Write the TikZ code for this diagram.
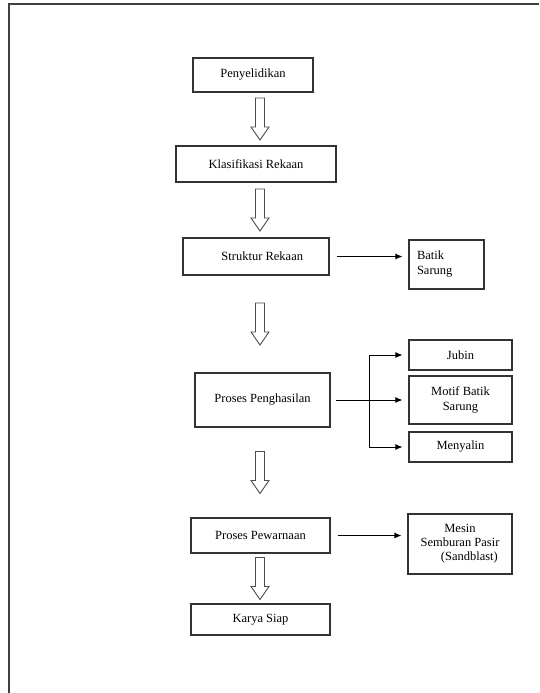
\documentclass[tikz,border=0pt]{standalone}
\usepackage{fontspec}
\setmainfont{Liberation Serif}
\usetikzlibrary{positioning}
\usetikzlibrary{calc}
\usetikzlibrary{arrows.meta}
\colorlet{frame}{black!75}
\colorlet{boxline}{black!80}
% hollow arrow halfway between two boxes
\newcommand{\tikzblockarrow}[2]{%
\path ($(#1.south)!0.5!(#2.north)$) coordinate (mid);
\draw[draw=black!70,line width=0.9pt,fill=white,line join=miter] (spine |- mid) ++(-4.5,-21) -- ++(9,0) -- ++(0,29) -- ++(4.5,0) -- ++(-9,13) -- ++(-9,-13) -- ++(4.5,0) -- cycle;
}
\begin{document}
\begin{tikzpicture}[x=1pt, y=-1pt,
  box/.style={draw=boxline, line width=1.2pt, inner sep=2pt, font=\fontsize{12.5}{15}\selectfont, align=center},
  arr/.style={-{Latex[length=7pt,width=6pt]}, line width=0.8pt, shorten >=6pt}]
\useasboundingbox (0,0) rectangle (539,693);
% open frame
\draw[frame,line width=1.5pt] (9,693) -- (9,4) -- (539,4);
\coordinate (spine) at (260,0);
% main column
\node[box, minimum width=120pt, minimum height=34pt] (pen) at (253,75) {Penyelidikan};
\node[box, minimum width=160pt, minimum height=36pt] (kla) at (256,164) {Klasifikasi Rekaan};
\node[box, minimum width=146pt, minimum height=37pt] (str) at (256,256.5) {\hspace*{1em}Struktur Rekaan};
\node[box, minimum width=135pt, minimum height=54pt] (peng) at (262.5,400) {Proses Penghasilan};
\node[box, minimum width=139pt, minimum height=35pt] (pew) at (260.5,535.5) {Proses Pewarnaan};
\node[box, minimum width=139pt, minimum height=31pt] (kar) at (260.5,619.5) {Karya Siap};
% side boxes
\node[box, text width=59pt, inner sep=8pt, align=left, minimum height=49pt] (bat) at (446.5,264.5) {Batik\\Sarung};
\node[box, minimum width=103pt, minimum height=30pt] (jub) at (460.5,355) {Jubin};
\node[box, minimum width=103pt, minimum height=48pt] (mot) at (460.5,400) {Motif Batik\\Sarung};
\node[box, minimum width=103pt, minimum height=30pt] (men) at (460.5,447) {Menyalin};
\node[box, minimum width=104pt, minimum height=60pt, font=\fontsize{12.5}{14}\selectfont] (mes) at (460,544) {Mesin\\Semburan Pasir\\\hspace*{1.5em}(Sandblast)};
% hollow arrows
\tikzblockarrow{pen}{kla}
\tikzblockarrow{kla}{str}
\tikzblockarrow{str}{peng}
\tikzblockarrow{peng}{pew}
\tikzblockarrow{pew}{kar}
% side connectors
\draw[arr, shorten <=7pt] (str.east) -- (str.east -| bat.west);
\coordinate (br) at (369,400);
\draw[arr, shorten <=5pt] (peng.east) -- (mot.west);
\draw[arr] (br) |- (jub.west);
\draw[arr] (br) |- (men.west);
\draw[arr, shorten <=7pt] (pew.east) -- (pew.east -| mes.west);
\end{tikzpicture}
\end{document}
